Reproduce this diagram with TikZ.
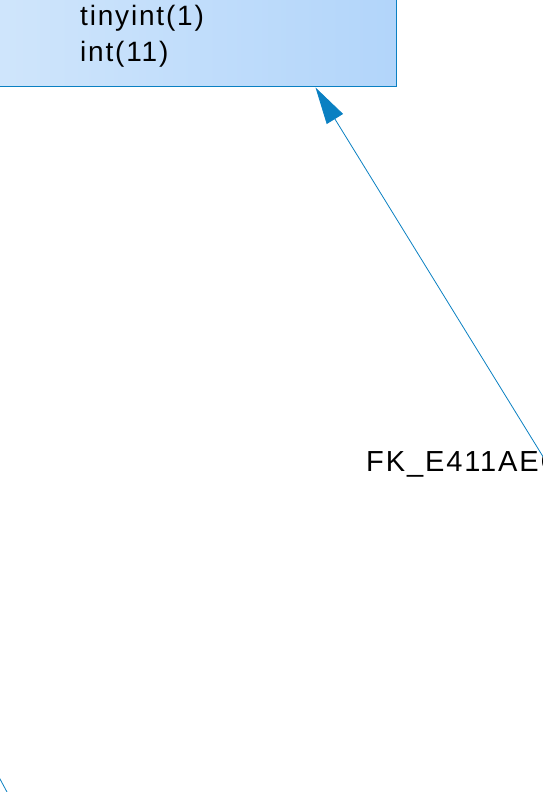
\documentclass[tikz,border=0pt]{standalone}
\usepackage{fontspec}
\setmainfont{Liberation Sans}
\newfontfamily\erfont[LetterSpace=6.5]{Liberation Sans}
\usetikzlibrary{calc}
\usetikzlibrary{arrows.meta}
\usetikzlibrary{positioning}

\definecolor{tblLight}{HTML}{D8EAFC}
\definecolor{tblDark}{HTML}{B2D5FA}
\definecolor{fkBlue}{HTML}{0A80C2}

\tikzset{
    tablebox/.style={draw=fkBlue, line width=1.2pt, left color=tblLight, right color=tblDark},
    coltype/.style={anchor=base west, inner sep=0pt, font=\erfont\fontsize{28}{34}\selectfont},
    fklabel/.style={anchor=base west, inner sep=0pt, font=\erfont\fontsize{29}{35}\selectfont},
    fkline/.style={draw=fkBlue, line width=0.8pt},
    fkarrow/.style={-{Triangle[length=37pt, width=19pt]}}
}

\begin{document}
\begin{tikzpicture}[x=1pt, y=-1pt]
    \clip (0,0) rectangle (543,792);

    % Table: bottom of the box
    \draw[tablebox] (-120,-60) rectangle (396.5,86.5);
    \node[coltype] (typeflag) at (80,26) {tinyint(1)};
    \node[coltype] (typeid) at (80,62) {int(11)};

    % Foreign key
    \coordinate (fkend) at (315.5,87.5);
    \coordinate (fkstart) at ($(fkend)!1.4!(542,455)$);
    \node[fklabel] (fkname) at (366,471) {FK\_E411AEC};
    \draw[fkline, fkarrow] (fkstart) -- (fkend);

    % Other connector, bottom left
    \coordinate (otherA) at (-7,766);
    \coordinate (otherB) at (14,805);
    \draw[fkline] (otherA) -- (otherB);
\end{tikzpicture}
\end{document}
